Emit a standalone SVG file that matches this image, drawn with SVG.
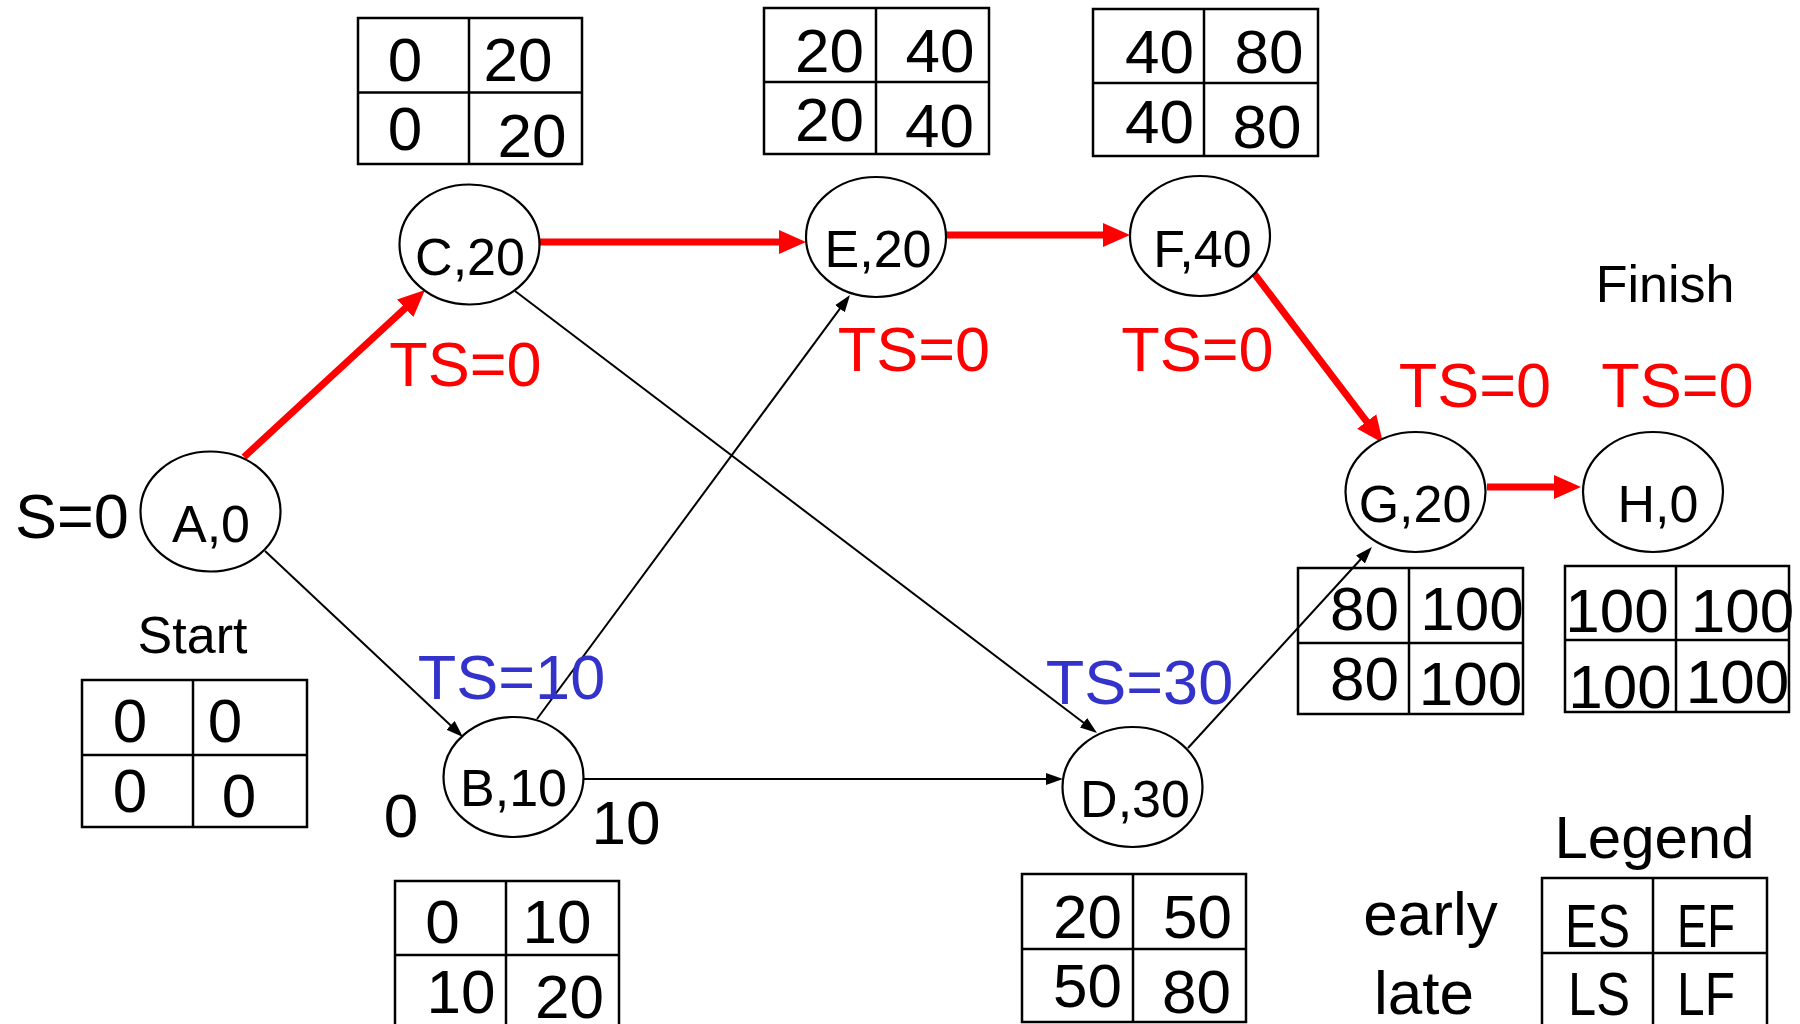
<svg xmlns="http://www.w3.org/2000/svg" width="1800" height="1024" viewBox="0 0 1800 1024">
<style>
text{font-family:"Liberation Sans",Arial,sans-serif;text-anchor:middle;fill:#000}
.cell{font-size:62px}
.lbl{font-size:52px}
.big{font-size:63px}
.red{fill:#FF0000}
.blue{fill:#3333CC}
.node ellipse{fill:#fff;stroke:#000;stroke-width:2.2}
.tbl rect{fill:none;stroke:#000;stroke-width:2.5}
.tbl line{stroke:#000;stroke-width:2.5}
.crit{stroke:#FF0000;stroke-width:7;fill:none}
.thin{stroke:#000;stroke-width:2;fill:none}
</style>
<defs>
<marker id="hr" markerUnits="userSpaceOnUse" markerWidth="28" markerHeight="26" refX="1" refY="13" orient="auto"><path d="M0,1 L27,13 L0,25 Z" fill="#FF0000"/></marker>
<marker id="hb" markerUnits="userSpaceOnUse" markerWidth="18" markerHeight="14" refX="1" refY="7" orient="auto"><path d="M0,1 L17,7 L0,13 Z" fill="#000"/></marker>
</defs>
<g id="connectors">
<path class="crit" d="M244,457 L405.9,307.6" marker-end="url(#hr)"/>
<path class="crit" d="M539,242 L780,242" marker-end="url(#hr)"/>
<path class="crit" d="M946,235 L1104,235" marker-end="url(#hr)"/>
<path class="crit" d="M1253,272 L1367.3,422.3" marker-end="url(#hr)"/>
<path class="crit" d="M1487,487 L1555,487" marker-end="url(#hr)"/>
<path class="thin" d="M265,551 L451.3,726" marker-end="url(#hb)"/>
<path class="thin" d="M537,719 L840.5,307.9" marker-end="url(#hb)"/>
<path class="thin" d="M582,779 L1047,779" marker-end="url(#hb)"/>
<path class="thin" d="M515,291 L1084.3,723.3" marker-end="url(#hb)"/>
<path class="thin" d="M1188,748 L1361.2,558.8" marker-end="url(#hb)"/>
</g>
<g id="node-A" class="node"><ellipse cx="210.5" cy="511.5" rx="70" ry="60"/><text class="lbl" x="211" y="542">A,0</text></g>
<g id="node-C" class="node"><ellipse cx="469.5" cy="244.5" rx="70" ry="60"/><text class="lbl" x="470" y="275">C,20</text></g>
<g id="node-E" class="node"><ellipse cx="876" cy="237" rx="70" ry="60"/><text class="lbl" x="878" y="267">E,20</text></g>
<g id="node-F" class="node"><ellipse cx="1200" cy="236" rx="70" ry="60"/><text class="lbl" x="1202.5" y="267">F,40</text></g>
<g id="node-G" class="node"><ellipse cx="1415.5" cy="492" rx="70" ry="60"/><text class="lbl" x="1415" y="522">G,20</text></g>
<g id="node-H" class="node"><ellipse cx="1653" cy="492" rx="70" ry="60"/><text class="lbl" x="1658" y="522">H,0</text></g>
<g id="node-B" class="node"><ellipse cx="513.5" cy="777" rx="70" ry="60"/><text class="lbl" x="513.5" y="806">B,10</text></g>
<g id="node-D" class="node"><ellipse cx="1132.5" cy="787" rx="70" ry="60"/><text class="lbl" x="1135" y="817">D,30</text></g>
<g id="table-C" class="tbl"><rect x="358" y="18" width="224" height="146"/><line x1="469" y1="18" x2="469" y2="164"/><line x1="358" y1="92.5" x2="582" y2="92.5"/>
<text class="cell" x="405" y="81">0</text><text class="cell" x="518" y="81">20</text><text class="cell" x="405" y="150">0</text><text class="cell" x="532" y="157">20</text></g>
<g id="table-E" class="tbl"><rect x="764" y="8" width="225" height="146"/><line x1="876" y1="8" x2="876" y2="154"/><line x1="764" y1="82" x2="989" y2="82"/>
<text class="cell" x="829.5" y="72">20</text><text class="cell" x="940" y="72">40</text><text class="cell" x="829.5" y="141">20</text><text class="cell" x="939.5" y="147">40</text></g>
<g id="table-F" class="tbl"><rect x="1093" y="9" width="225" height="147"/><line x1="1204" y1="9" x2="1204" y2="156"/><line x1="1093" y1="83" x2="1318" y2="83"/>
<text class="cell" x="1159.5" y="73">40</text><text class="cell" x="1269" y="73">80</text><text class="cell" x="1159.5" y="143">40</text><text class="cell" x="1267" y="148">80</text></g>
<g id="table-G" class="tbl"><rect x="1298" y="568" width="225" height="146"/><line x1="1409" y1="568" x2="1409" y2="714"/><line x1="1298" y1="643" x2="1523" y2="643"/>
<text class="cell" x="1364.5" y="630">80</text><text class="cell" x="1472" y="630">100</text><text class="cell" x="1364.5" y="700">80</text><text class="cell" x="1470.5" y="705">100</text></g>
<g id="table-H" class="tbl"><rect x="1565" y="566" width="224" height="146"/><line x1="1676" y1="566" x2="1676" y2="712"/><line x1="1565" y1="640" x2="1789" y2="640"/>
<text class="cell" x="1617" y="632">100</text><text class="cell" x="1742.5" y="632">100</text><text class="cell" x="1620" y="708">100</text><text class="cell" x="1737.5" y="703">100</text></g>
<g id="table-Start" class="tbl"><rect x="82" y="680" width="225" height="147"/><line x1="193" y1="680" x2="193" y2="827"/><line x1="82" y1="755" x2="307" y2="755"/>
<text class="cell" x="130" y="742">0</text><text class="cell" x="225" y="742">0</text><text class="cell" x="130" y="812">0</text><text class="cell" x="239" y="817">0</text></g>
<g id="table-B" class="tbl"><rect x="395" y="881" width="224" height="147"/><line x1="506" y1="881" x2="506" y2="1028"/><line x1="395" y1="955" x2="619" y2="955"/>
<text class="cell" x="442.5" y="943">0</text><text class="cell" x="557" y="943">10</text><text class="cell" x="461" y="1013">10</text><text class="cell" x="569.5" y="1018">20</text></g>
<g id="table-D" class="tbl"><rect x="1022" y="874" width="224" height="148"/><line x1="1133" y1="874" x2="1133" y2="1022"/><line x1="1022" y1="949" x2="1246" y2="949"/>
<text class="cell" x="1087.5" y="938">20</text><text class="cell" x="1197.5" y="938">50</text><text class="cell" x="1087.5" y="1007">50</text><text class="cell" x="1196.5" y="1013">80</text></g>
<g id="legend" class="tbl"><rect x="1542" y="878" width="225" height="148"/><line x1="1653" y1="878" x2="1653" y2="1026"/><line x1="1542" y1="953" x2="1767" y2="953"/>
<text class="cell" x="1597.5" y="947" textLength="65" lengthAdjust="spacingAndGlyphs">ES</text><text class="cell" x="1706" y="947" textLength="58" lengthAdjust="spacingAndGlyphs">EF</text><text class="cell" x="1599" y="1015" textLength="62" lengthAdjust="spacingAndGlyphs">LS</text><text class="cell" x="1706" y="1015" textLength="58" lengthAdjust="spacingAndGlyphs">LF</text>
<text class="cell" x="1654.5" y="858" style="font-size:60px">Legend</text>
<text class="cell" x="1430.5" y="935">early</text><text class="cell" x="1424" y="1014">late</text></g>
<g id="labels">
<text class="big" x="72" y="538">S=0</text>
<text class="lbl" x="192.5" y="653">Start</text>
<text class="lbl" x="1665" y="302">Finish</text>
<text class="cell" x="401" y="837">0</text>
<text class="cell" x="626" y="844">10</text>
<text class="big red" x="465.5" y="386">TS=0</text>
<text class="big red" x="914" y="371">TS=0</text>
<text class="big red" x="1197.5" y="371">TS=0</text>
<text class="big red" x="1475" y="407">TS=0</text>
<text class="big red" x="1677.5" y="407">TS=0</text>
<text class="big blue" x="511.5" y="699">TS=10</text>
<text class="big blue" x="1139.5" y="704">TS=30</text>
</g>
</svg>
